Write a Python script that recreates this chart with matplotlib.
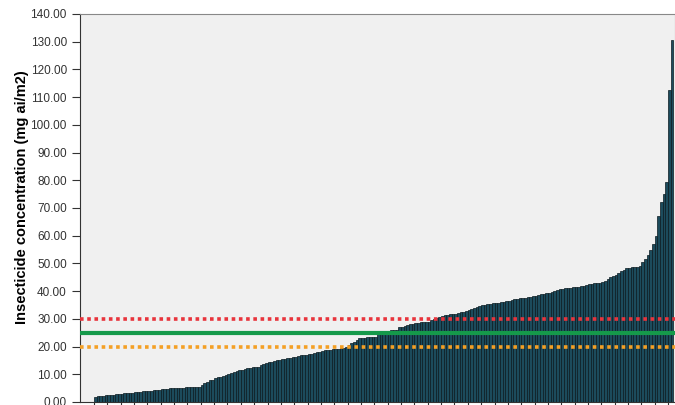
import numpy as np
import matplotlib
matplotlib.use("Agg")
import matplotlib.pyplot as plt

# Insecticide concentration per sample, sorted ascending (mg ai/m2)
concentration = [
    1.8, 2.0, 2.2, 2.3, 2.4, 2.5, 2.6, 2.7, 2.8, 2.9,
    3.0, 3.1, 3.2, 3.3, 3.4, 3.5, 3.6, 3.7, 3.8, 3.9,
    4.0, 4.1, 4.2, 4.3, 4.4, 4.6, 4.7, 4.8, 5.0, 5.0,
    5.1, 5.1, 5.2, 5.2, 5.3, 5.3, 5.4, 5.4, 5.5, 5.5,
    6.3, 6.9, 7.3, 7.8, 8.1, 8.5, 8.9, 9.2, 9.5, 9.8,
    10.1, 10.4, 10.8, 11.1, 11.5, 11.7, 12.0, 12.2, 12.4, 12.5,
    12.6, 12.7, 13.2, 13.6, 14.0, 14.3, 14.6, 14.8, 15.0, 15.2,
    15.4, 15.6, 15.9, 16.0, 16.2, 16.4, 16.6, 16.8, 17.0, 17.1,
    17.3, 17.5, 17.8, 18.0, 18.2, 18.4, 18.6, 18.8, 18.8, 19.0,
    19.1, 19.3, 19.4, 19.5, 19.9, 20.5, 21.2, 21.8, 22.4, 23.0,
    23.1, 23.2, 23.3, 23.4, 23.5, 23.5, 25.3, 25.4, 25.5, 25.6,
    25.7, 25.8, 25.9, 26.0, 27.0, 27.2, 27.5, 27.7, 28.0, 28.2,
    28.5, 28.6, 28.7, 28.8, 28.9, 29.0, 29.5, 30.0, 30.3, 30.6,
    31.0, 31.3, 31.5, 31.7, 31.8, 31.9, 32.0, 32.3, 32.6, 32.9,
    33.2, 33.5, 33.9, 34.3, 34.7, 35.0, 35.1, 35.3, 35.4, 35.6,
    35.8, 35.9, 36.0, 36.2, 36.4, 36.6, 36.8, 37.0, 37.2, 37.5,
    37.6, 37.7, 37.8, 38.0, 38.2, 38.4, 38.6, 38.8, 39.0, 39.3,
    39.5, 39.7, 40.0, 40.3, 40.6, 40.8, 41.0, 41.1, 41.2, 41.4,
    41.5, 41.6, 41.8, 42.0, 42.2, 42.4, 42.6, 42.8, 43.0, 43.1,
    43.3, 43.6, 44.3, 45.0, 45.5, 46.0, 46.6, 47.2, 47.8, 48.4,
    48.5, 48.6, 48.7, 48.8, 49.0, 50.5, 51.5, 53.0, 55.0, 57.0,
    60.0, 67.0, 72.0, 75.0, 79.4, 112.6, 130.5,
]

# reference thresholds
upper_ref = 30
mid_ref = 25
lower_ref = 20

y_ticks = np.arange(0, 141, 10)

fig = plt.figure(figsize=(6.75, 4.05), dpi=100)
ax = fig.add_axes([80 / 675, 3 / 405, 595 / 675, 388 / 405])
ax.set_facecolor("#f0f0f0")

x = np.arange(len(concentration))
ax.bar(x, concentration, width=1.0, color="#1c4b5c", edgecolor="#0a1a20",
       linewidth=0.5, zorder=2)

ax.axhline(upper_ref, color="#e8343c", lw=2.6, ls=(0, (1, 1)), zorder=3)
ax.axhline(mid_ref, color="#15994a", lw=3.0, zorder=3)
ax.axhline(lower_ref, color="#f4a025", lw=2.6, ls=(0, (1, 1)), zorder=3)

ax.set_xlim(-5.74, 217.1)
ax.set_ylim(0, 140)
ax.set_yticks(y_ticks)
ax.set_yticklabels([f"{v:.2f}" for v in y_ticks], fontsize=8.5,
                   color="#333333", family="Liberation Sans")
ax.set_xticks(np.arange(-0.5, len(concentration), 5))
ax.set_xticklabels([])
ax.tick_params(axis="both", direction="out", length=6, width=0.8, color="#333333")

ax.set_ylabel("Insecticide concentration (mg ai/m2)", fontsize=10.5,
              fontweight="bold", family="Liberation Sans")
ax.yaxis.set_label_coords(-51 / 595, 0.528)

for side in ["top", "right"]:
    ax.spines[side].set_color("#888888")
ax.spines["left"].set_color("#333333")
ax.spines["bottom"].set_color("#333333")

fig.savefig("out.png", dpi=100)
